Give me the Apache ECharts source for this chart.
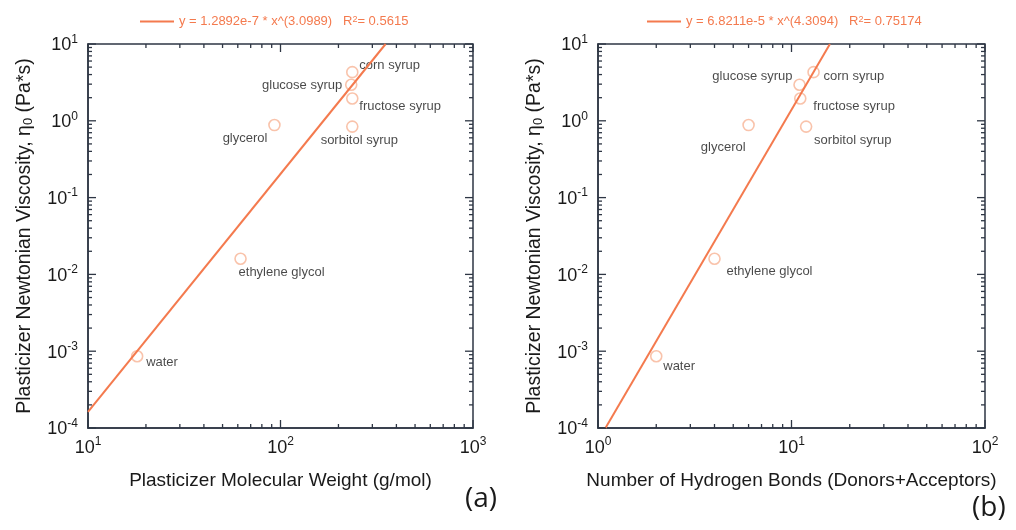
<!DOCTYPE html>
<html><head><meta charset="utf-8">
<script src="https://cdn.jsdelivr.net/npm/echarts@6/dist/echarts.min.js"></script>
<style>html,body{margin:0;padding:0;background:#fff}#c{width:1016px;height:530px}</style>
</head><body><div id="c"></div>
<script>
// ---- data ----
const names = ['water', 'ethylene glycol', 'glycerol', 'sorbitol syrup', 'fructose syrup', 'glucose syrup', 'corn syrup'];
const molWeight = [18, 62, 93, 236, 236, 233, 236];
const hBonds = [2, 4, 6, 11.9, 11.1, 11, 13];
const viscosity = [0.00086, 0.016, 0.88, 0.84, 1.95, 2.95, 4.3];
// fit line end points (power law -> straight on log-log axes)
const fitA = [[10, 1.619e-4], [351.6, 10]];
const fitB = [[1.093, 1e-4], [15.8, 10]];
const fitTextA = 'y = 1.2892e-7 * x^(3.0989)   R';
const r2A = '0.5615';
const fitTextB = 'y = 6.8211e-5 * x^(4.3094)   R';
const r2B = '0.75174';
const xTitleA = 'Plasticizer Molecular Weight (g/mol)';
const xTitleB = 'Number of Hydrogen Bonds (Donors+Acceptors)';
const yTitle = ['Plasticizer Newtonian Viscosity, η', '0', ' (Pa*s)'];
const xRangeA = [10, 1000];
const xRangeB = [1, 100];
const yRange = [1e-4, 10];
const panelTags = ['(a)', '(b)'];

// ---- styles ----
const axisColor = '#2e3644';
const fitColor = '#f47a4e';
const circleColor = '#f7b496';
const textColor = '#1a1a1a';
const FONT = '"Liberation Sans", Arial, sans-serif';

const labelPlacementA = {
  'water': ['left', 9, 6], 'ethylene glycol': ['left', -2, 14], 'glycerol': ['right', -7, 13],
  'sorbitol syrup': ['center', 7, 14], 'fructose syrup': ['left', 7, 8], 'glucose syrup': ['right', -9, 1],
  'corn syrup': ['left', 7, -7]
};
const labelPlacementB = {
  'water': ['left', 7, 10], 'ethylene glycol': ['left', 12, 13], 'glycerol': ['right', -3, 22],
  'sorbitol syrup': ['left', 8, 14], 'fructose syrup': ['left', 13, 8], 'glucose syrup': ['right', -7, -8],
  'corn syrup': ['left', 10, 4]
};

function decadeTicks(r) {
  const major = [], minor = [];
  const e0 = Math.round(Math.log10(r[0])), e1 = Math.round(Math.log10(r[1]));
  for (let e = e0; e <= e1; e++) {
    const b = Math.pow(10, e);
    major.push(b);
    if (e < e1) for (let k = 2; k <= 9; k++) minor.push(k * b);
  }
  return { major, minor };
}

const expRich = {
  b: { fontSize: 18, lineHeight: 21, verticalAlign: 'bottom', color: textColor, fontFamily: FONT },
  s: { fontSize: 12, lineHeight: 12, verticalAlign: 'top', color: textColor, fontFamily: FONT }
};
function expLabel(v) { return '{b|10}{s|' + Math.round(Math.log10(v)) + '}'; }

function makeX(idx, range, title) {
  return {
    type: 'log', logBase: 10, gridIndex: idx, min: range[0], max: range[1],
    axisLine: { show: true, lineStyle: { color: axisColor, width: 1.5 } },
    axisTick: { show: false }, splitLine: { show: false }, minorTick: { show: false },
    axisLabel: { formatter: expLabel, rich: expRich, margin: 8 },
    name: title, nameLocation: 'middle', nameGap: 43,
    nameTextStyle: { fontSize: 19, color: textColor, fontFamily: FONT }
  };
}
function makeY(idx, gap) {
  return {
    type: 'log', logBase: 10, gridIndex: idx, min: yRange[0], max: yRange[1],
    axisLine: { show: true, lineStyle: { color: axisColor, width: 1.5 } },
    axisTick: { show: false }, splitLine: { show: false },
    axisLabel: { formatter: expLabel, rich: expRich, margin: 10 },
    name: '{t|' + yTitle[0] + '}{u|' + yTitle[1] + '}{t|' + yTitle[2] + '}',
    nameLocation: 'middle', nameGap: gap, nameRotate: 90,
    nameTextStyle: {
      rich: {
        t: { fontSize: 19.5, lineHeight: 24, verticalAlign: 'bottom', color: textColor, fontFamily: FONT },
        u: { fontSize: 13, lineHeight: 13, verticalAlign: 'bottom', color: textColor, fontFamily: FONT }
      }
    }
  };
}

function scatterSeries(idx, xs, placement) {
  return {
    type: 'scatter', xAxisIndex: idx, yAxisIndex: idx, z: 2,
    symbol: 'circle', symbolSize: 11,
    itemStyle: { color: 'rgba(255,255,255,0)', borderColor: circleColor, borderWidth: 1.6 },
    data: names.map((n, i) => {
      const p = placement[n];
      return {
        name: n, value: [xs[i], viscosity[i]],
        label: { show: true, formatter: n, position: 'inside', align: p[0], verticalAlign: 'middle',
          offset: [p[1], p[2]], color: textColor, fontSize: 13, fontFamily: FONT }
      };
    })
  };
}

function fitSeries(idx, pts, name) {
  return {
    type: 'line', name: name, xAxisIndex: idx, yAxisIndex: idx, z: 4,
    data: pts, showSymbol: false, symbol: 'none',
    lineStyle: { color: fitColor, width: 2 }, itemStyle: { color: fitColor }
  };
}

function tickSeries(idx, xr, yr) {
  const xt = decadeTicks(xr), yt = decadeTicks(yr);
  const data = [];
  xt.major.forEach(v => data.push([v, yr[0], 1]));
  xt.minor.forEach(v => data.push([v, yr[0], 0]));
  yt.major.forEach(v => data.push([xr[0], v, 3]));
  yt.minor.forEach(v => data.push([xr[0], v, 2]));
  return {
    type: 'custom', xAxisIndex: idx, yAxisIndex: idx, clip: false, silent: true, z: 6,
    data: data,
    renderItem: function (params, api) {
      const kind = api.value(2);
      const len = (kind === 1 || kind === 3) ? 8 : 4;
      const st = { stroke: axisColor, lineWidth: 1.3 };
      const ch = [];
      if (kind < 2) {
        const b = api.coord([api.value(0), yr[0]]);
        const t = api.coord([api.value(0), yr[1]]);
        ch.push({ type: 'line', shape: { x1: b[0], y1: b[1], x2: b[0], y2: b[1] - len }, style: st });
        ch.push({ type: 'line', shape: { x1: t[0], y1: t[1], x2: t[0], y2: t[1] + len }, style: st });
      } else {
        const l = api.coord([xr[0], api.value(1)]);
        const r = api.coord([xr[1], api.value(1)]);
        ch.push({ type: 'line', shape: { x1: l[0], y1: l[1], x2: l[0] + len, y2: l[1] }, style: st });
        ch.push({ type: 'line', shape: { x1: r[0], y1: r[1], x2: r[0] - len, y2: r[1] }, style: st });
      }
      return { type: 'group', children: ch };
    }
  };
}

const legendRich = { s: { fontSize: 9, lineHeight: 9, verticalAlign: 'top', color: fitColor, fontFamily: FONT } };

const option = {
  animation: false,
  backgroundColor: '#ffffff',
  grid: [
    { left: 88, top: 44, width: 385, height: 384, show: true, borderColor: axisColor, borderWidth: 1.5, backgroundColor: 'transparent' },
    { left: 598, top: 44, width: 387, height: 384, show: true, borderColor: axisColor, borderWidth: 1.5, backgroundColor: 'transparent' }
  ],
  legend: [
    { data: ['fitA'], left: 140, top: 15, padding: 0, icon: 'rect', itemWidth: 34, itemHeight: 2,
      formatter: () => fitTextA + '{s|2}= ' + r2A,
      textStyle: { color: fitColor, fontSize: 13, fontFamily: FONT, rich: legendRich } },
    { data: ['fitB'], left: 647, top: 15, padding: 0, icon: 'rect', itemWidth: 34, itemHeight: 2,
      formatter: () => fitTextB + '{s|2}= ' + r2B,
      textStyle: { color: fitColor, fontSize: 13, fontFamily: FONT, rich: legendRich } }
  ],
  xAxis: [makeX(0, xRangeA, xTitleA), makeX(1, xRangeB, xTitleB)],
  yAxis: [makeY(0, 53), makeY(1, 53)],
  series: [
    scatterSeries(0, molWeight, labelPlacementA),
    scatterSeries(1, hBonds, labelPlacementB),
    fitSeries(0, fitA, 'fitA'),
    fitSeries(1, fitB, 'fitB'),
    tickSeries(0, xRangeA, yRange),
    tickSeries(1, xRangeB, yRange)
  ],
  graphic: [
    { type: 'text', left: 465, top: 485, style: { text: panelTags[0], fontSize: 28, fill: textColor, fontFamily: '"Open Sans", sans-serif' } },
    { type: 'text', left: 972, top: 494, style: { text: panelTags[1], fontSize: 28, fill: textColor, fontFamily: '"Open Sans", sans-serif' } }
  ]
};

const chart = echarts.init(document.getElementById('c'), null, { renderer: 'canvas' });
chart.setOption(option);
</script>
</body></html>
